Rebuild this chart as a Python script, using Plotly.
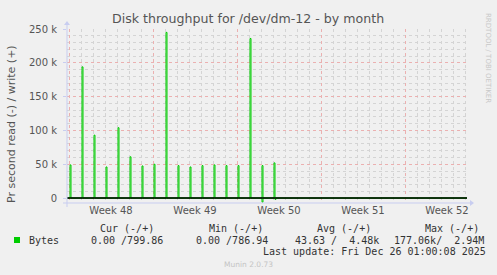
import plotly.graph_objects as go
from datetime import datetime, timedelta

# ---- data ----
spike_times = ["2025-11-24 02:00", "2025-11-25 02:00", "2025-11-26 02:00", "2025-11-27 02:00",
               "2025-11-28 02:00", "2025-11-29 02:00", "2025-11-30 02:00", "2025-12-01 02:00",
               "2025-12-02 02:00", "2025-12-03 02:00", "2025-12-04 02:00", "2025-12-05 02:00",
               "2025-12-06 02:00", "2025-12-07 02:00", "2025-12-08 02:00", "2025-12-09 02:00",
               "2025-12-10 02:00", "2025-12-11 02:00"]
write_peaks = [49000, 194000, 93000, 46000, 104000, 61000, 47500, 50000, 245000,
               48000, 46000, 48000, 49000, 48000, 48000, 236000, 48000, 52000]
read_times = ["2025-12-10 02:00", "2025-12-11 04:00"]
read_peaks = [-6000, -2000]

x_start = "2025-11-23 20:00"
x_end = "2025-12-27 04:00"
y_tickvals = [0, 50000, 100000, 150000, 200000, 250000]
y_ticktext = ["0", "50 k", "100 k", "150 k", "200 k", "250 k"]

STEP = timedelta(hours=2)
FMT = "%Y-%m-%d %H:%M"


def build(times, peaks):
    xs, ys = [x_start], [0]
    for t, p in zip(times, peaks):
        dt = datetime.strptime(t, FMT)
        xs += [(dt).strftime(FMT), (dt + STEP).strftime(FMT)]
        ys += [p, 0]
    xs.append(x_end)
    ys.append(0)
    return xs, ys


wx, wy = build(spike_times, write_peaks)
rx, ry = build(read_times, read_peaks)

W, H = 497, 275
L, R, T, B = 67, 467, 29, 203
YMIN, YMAX = -7300, 250000


def px(x):
    return (x - L) / (R - L)


def py(y):
    return (B - y) / (B - T)


GREEN = "#00CC00"
fig = go.Figure()
fig.add_trace(go.Scatter(x=rx, y=ry, mode="lines", line=dict(color=GREEN, width=1, shape="hv"),
                         showlegend=False, hoverinfo="skip"))
fig.add_trace(go.Scatter(x=wx, y=wy, mode="lines", line=dict(color=GREEN, width=1, shape="hv"),
                         showlegend=False, hoverinfo="skip"))

GRID = "#d4d4d4"
MAJ = "#ebb0b0"
AX = "#c8cdf0"
TXT = "#555555"
MONO = "DejaVu Sans Mono"
SANS = "DejaVu Sans"

fig.update_layout(
    width=W, height=H,
    margin=dict(l=L, r=W - R, t=T, b=H - B),
    paper_bgcolor="#F0F0F0", plot_bgcolor="#F0F0F0",
    showlegend=False,
    xaxis=dict(
        type="date", range=[x_start, x_end],
        tick0="2025-11-24", dtick=7 * 86400000,
        ticklabelmode="period", tickformat="Week %V",
        showgrid=True, gridcolor=MAJ, griddash="dot", gridwidth=1,
        minor=dict(dtick=86400000, showgrid=True, gridcolor=GRID, griddash="dot", gridwidth=1),
        tickfont=dict(family=SANS, size=10, color=TXT),
        ticks="", showline=False, zeroline=False, fixedrange=True,
    ),
    yaxis=dict(
        range=[YMIN, YMAX], tickvals=y_tickvals, ticktext=y_ticktext,
        showgrid=True, gridcolor=MAJ, griddash="dot", gridwidth=1,
        minor=dict(dtick=10000, tick0=0, showgrid=True, gridcolor=GRID, griddash="dot", gridwidth=1),
        tickfont=dict(family=SANS, size=10, color=TXT),
        ticks="outside", ticklen=3, tickcolor=AX, ticklabelstandoff=4,
        showline=False, zeroline=False, fixedrange=True,
    ),
)

shapes = []
# zero line (black)
shapes.append(dict(type="line", xref="paper", yref="y", x0=0, x1=1, y0=0, y1=0,
                   line=dict(color="#000000", width=1.6), layer="above"))
# axes lines with arrows
shapes.append(dict(type="line", xref="paper", yref="paper", x0=px(63), x1=px(470), y0=py(B), y1=py(B),
                   line=dict(color=AX, width=1), layer="above"))
shapes.append(dict(type="line", xref="paper", yref="paper", x0=px(L), x1=px(L), y0=py(207), y1=py(24),
                   line=dict(color=AX, width=1), layer="above"))
shapes.append(dict(type="path", xref="paper", yref="paper",
                   path=f"M {px(470)} {py(B-3)} L {px(474)} {py(B)} L {px(470)} {py(B+3)} Z",
                   fillcolor=AX, line=dict(color=AX, width=0), layer="above"))
shapes.append(dict(type="path", xref="paper", yref="paper",
                   path=f"M {px(L-3)} {py(25)} L {px(L)} {py(21)} L {px(L+3)} {py(25)} Z",
                   fillcolor=AX, line=dict(color=AX, width=0), layer="above"))
# legend colour box
shapes.append(dict(type="rect", xref="paper", yref="paper", x0=px(14), x1=px(20), y0=py(243), y1=py(237),
                   fillcolor=GREEN, line=dict(color=GREEN, width=0)))
fig.update_layout(shapes=shapes)

ann = []


def text(s, x, y, size=10, color="#333333", family=MONO, xanchor="left", angle=0):
    ann.append(dict(text=s, x=px(x), y=py(y), xref="paper", yref="paper", showarrow=False,
                    xanchor=xanchor, yanchor="middle", textangle=angle,
                    font=dict(family=family, size=size, color=color)))


text("Disk throughput for /dev/dm-12 - by month", 248, 19, size=12.6, color=TXT, family=SANS, xanchor="center")
text("Pr second read (-) / write (+)", 12, 124, size=11, color=TXT, family=SANS, xanchor="center", angle=-90)
text("RRDTOOL / TOBI OETIKER", 488, 58, size=7, color="#c8c8c8", family=SANS, xanchor="center", angle=90)

text("Cur (-/+)", 98, 228)
text("Min (-/+)", 206.5, 228)
text("Avg (-/+)", 315, 228)
text("Max (-/+)", 422.5, 228)
text("Bytes", 26.5, 240)
text("0.00 /799.86", 89, 240)
text("0.00 /786.94", 194.3, 240)
text("43.63 /  4.48k", 292.7, 240)
text("177.06k/  2.94M", 391.5, 240)
text("Last update: Fri Dec 26 01:00:08 2025", 261, 251.5)
text("Munin 2.0.73", 248, 264.5, size=7.5, color="#c4c4c4", family=SANS, xanchor="center")

fig.update_layout(annotations=ann)
fig.write_html("out.html")
